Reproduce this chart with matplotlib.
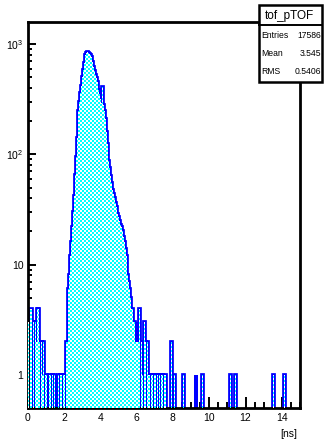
import numpy as np
import matplotlib
matplotlib.use('Agg')
import matplotlib.pyplot as plt
from matplotlib.patches import Rectangle
from matplotlib.lines import Line2D
from matplotlib.ticker import LogLocator, MultipleLocator, FuncFormatter, NullFormatter

plt.rcParams['font.family'] = ['Liberation Sans', 'DejaVu Sans']
plt.rcParams['mathtext.fontset'] = 'custom'
plt.rcParams['mathtext.rm'] = 'Liberation Sans'

# histogram tof_pTOF: 300 bins of 0.05 ns between 0 and 15 ns
n_bins = 300
t_min, t_max = 0.0, 15.0

# contents of bins 0..149 (0.00 - 7.45 ns)
core_counts = [
    3, 4, 0, 4, 4, 0, 3, 0, 3, 2, 4, 0, 4, 2, 0, 2, 1, 2, 0, 1,
    1, 0, 1, 0, 1, 1, 0, 1, 0, 1, 0, 0, 0, 0, 1, 0, 1, 1, 0, 1,
    1, 0, 2, 2,
    3, 6, 8, 12, 16, 22, 30, 42, 65, 95,
    140, 190, 250, 300, 360, 420, 500, 580, 680, 790,
    830, 840, 835, 830, 820, 800, 760, 690, 620, 570,
    530, 490, 450, 410, 380, 350, 320, 295, 410, 280,
    250, 210, 160, 125, 105, 88, 75, 64, 55, 48,
    44, 40, 36, 33, 31, 29, 27, 25, 23, 22,
    20, 18, 16, 14, 12, 10, 8, 7, 6, 5,
    4, 4, 3, 3, 2, 2, 3, 2, 2, 4,
    0, 2, 1, 0, 3, 2, 0, 2, 2,
    1, 1, 0, 1, 1, 0, 1, 1, 0, 1, 1, 0, 1, 0, 1, 1, 0,
]

# isolated entries further out (bin low edge in ns, content)
tail_ns = [7.50, 7.55, 7.90, 8.05, 8.55, 9.25, 9.60, 11.15, 11.40, 13.50, 14.10]
tail_counts = [1, 1, 2, 1, 1, 1, 1, 1, 1, 1, 1]

stats_title = 'tof_pTOF'
stats_rows = [('Entries', '17586'), ('Mean', '3.545'), ('RMS', '0.5406')]

edges = np.linspace(t_min, t_max, n_bins + 1)
counts = np.zeros(n_bins)
counts[:len(core_counts)] = core_counts
width = (t_max - t_min) / n_bins
for t, n in zip(tail_ns, tail_counts):
    counts[int(round((t - t_min) / width))] = n

W, H = 324, 442
fig = plt.figure(figsize=(W / 100, H / 100), dpi=100)
fig.patch.set_facecolor('white')
left, right, top, bottom = 27.6, 300.0, 22.5, 407.7
ax = fig.add_axes([left / W, 1 - bottom / H, (right - left) / W, (bottom - top) / H])

ymin, ymax = 0.505, 1570
ax.set_yscale('log')
ax.set_xlim(t_min, t_max)
ax.set_ylim(ymin, ymax)

# filled area (used as a clip path for the checker pattern)
fill = ax.stairs(np.where(counts > 0, counts, ymin), edges, baseline=ymin,
                 fill=True, facecolor='none', edgecolor='none')

# ROOT-like dotted cyan fill
yy, xx = np.mgrid[0:H, 0:W]
cell = 2
mask = ((yy // cell) + (xx // cell)) % 2 == 0
checker = np.ones((H, W, 3))
checker[mask] = [0.0, 1.0, 1.0]
img = fig.figimage(checker, xo=0, yo=0, origin='lower', zorder=1.5)
img.set_clip_path(fill)

outline = np.where(counts > 0, counts, 0.01)
ax.stairs(outline, edges, baseline=None, color='#0000ff', lw=2.7, zorder=3)

for s in ax.spines.values():
    s.set_linewidth(2.0)
    s.set_zorder(5)

ax.xaxis.set_major_locator(MultipleLocator(2))
ax.xaxis.set_minor_locator(MultipleLocator(0.5))
ax.yaxis.set_major_locator(LogLocator(base=10, numticks=10))
ax.yaxis.set_minor_locator(LogLocator(base=10, subs=np.arange(2, 10), numticks=10))
ax.yaxis.set_minor_formatter(NullFormatter())


def ylab(v, pos):
    if v < 5:
        return '1'
    if v < 50:
        return '10'
    return '$10^{%d}$' % int(round(np.log10(v)))


ax.yaxis.set_major_formatter(FuncFormatter(ylab))
ax.tick_params(axis='x', which='major', direction='in', length=8, width=1.4,
               labelsize=7.5, pad=4, top=False)
ax.tick_params(axis='x', which='minor', direction='in', length=4, width=1.4, top=False)
ax.tick_params(axis='y', which='major', direction='in', length=5.5, width=1.4,
               labelsize=7.5, pad=3, right=False)
ax.tick_params(axis='y', which='minor', direction='in', length=3, width=1.4, right=False)

fig.text(297 / W, 1 - 434 / H, '[ns]', ha='right', va='center', fontsize=7.5)

# statistics box
bx0, bx1, by0, by1 = 259, 322, 5, 82
fig.add_artist(Rectangle((bx0 / W, 1 - by1 / H), (bx1 - bx0) / W, (by1 - by0) / H,
                         transform=fig.transFigure, facecolor='white',
                         edgecolor='black', lw=1.8, zorder=10))
fig.add_artist(Line2D([bx0 / W, bx1 / W], [1 - 25 / H, 1 - 25 / H],
                      transform=fig.transFigure, color='black', lw=1.4, zorder=11))
fig.text(289 / W, 1 - 15.5 / H, stats_title, ha='center', va='center',
         fontsize=8.5, zorder=12)
for i, (name, val) in enumerate(stats_rows):
    y = 1 - (35 + 18 * i) / H
    fig.text(261.5 / W, y, name, ha='left', va='center', fontsize=6.2, zorder=12)
    fig.text(321 / W, y, val, ha='right', va='center', fontsize=6.2, zorder=12)

fig.savefig('out.png', dpi=100)
